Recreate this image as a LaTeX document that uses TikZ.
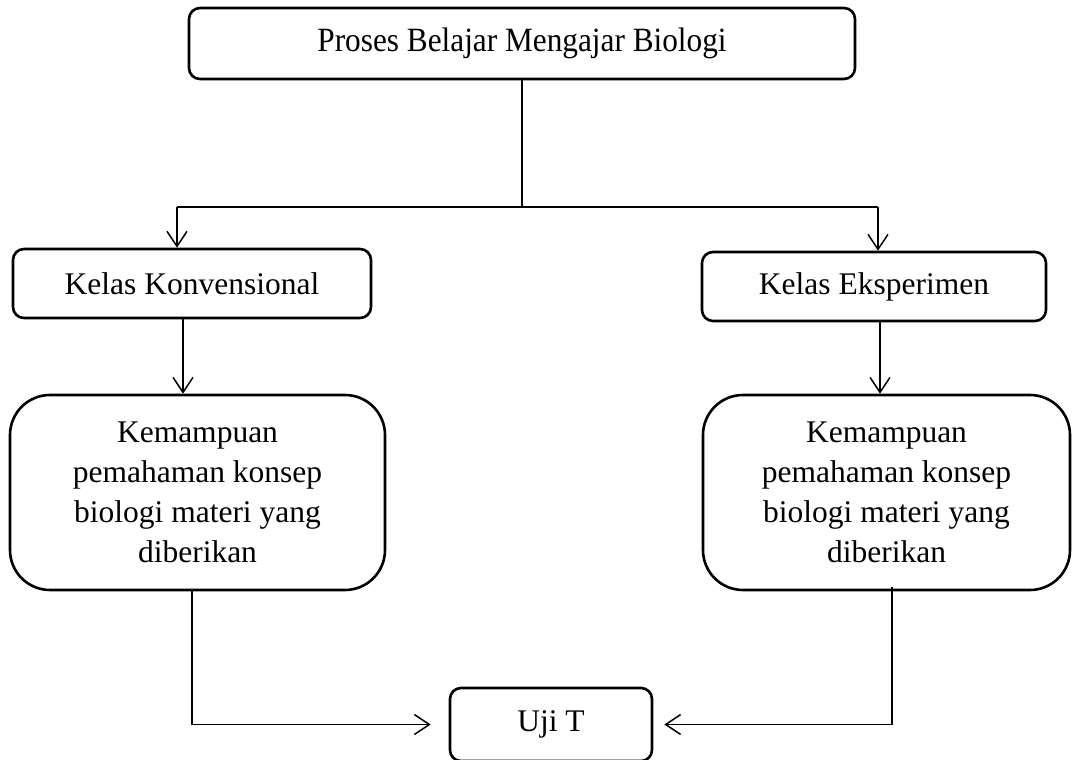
\documentclass[tikz,border=0pt]{standalone}
\usepackage{fontspec}
\setmainfont{Liberation Serif}
\usetikzlibrary{arrows.meta}
\begin{document}
\begin{tikzpicture}[x=1pt,y=-1pt,
  box/.style={draw, line width=2.6pt, rounded corners=11pt, inner sep=0pt,
    font=\fontsize{31.5}{40}\selectfont, align=center},
  bigbox/.style={box, rounded corners=40pt},
  conn/.style={line width=1.5pt},
  arr/.style={conn, -{Straight Barb[length=15pt,width=20pt,line width=1.5pt]}}]
\clip (0,0) rectangle (1072,760);
\node[box, minimum width=666pt, minimum height=71pt] (top) at (522,43.5) {\fontsize{34}{40}\selectfont\scalebox{0.92}[1]{Proses Belajar Mengajar Biologi}};
\node[box, minimum width=358pt, minimum height=69pt] (kk) at (192,283.5) {Kelas Konvensional};
\node[box, minimum width=344pt, minimum height=69pt] (ke) at (874,286.5) {Kelas Eksperimen};
\node[bigbox, minimum width=375pt, minimum height=195pt] (kl) at (197.5,492.5) {Kemampuan\\pemahaman konsep\\biologi materi yang\\diberikan};
\node[bigbox, minimum width=367pt, minimum height=195pt] (kr) at (886.5,492.5) {Kemampuan\\pemahaman konsep\\biologi materi yang\\diberikan};
\node[box, minimum width=202pt, minimum height=73pt] (uji) at (551,724.5) {Uji T};
\coordinate (bl) at (177,207);
\coordinate (bm) at (522,207);
\coordinate (brt) at (878,207);
\draw[conn] (top.south) -- (bm);
\draw[conn] (bl) -- (brt);
\draw[arr] (bl) -- (bl |- kk.north);
\draw[arr] (brt) -- (brt |- ke.north);
\draw[arr] ([xshift=-9pt]kk.south) -- ([xshift=-9pt]kk.south |- kl.north);
\draw[arr] ([xshift=6pt]ke.south) -- ([xshift=6pt]ke.south |- kr.north);
\draw[arr] ([xshift=-5.5pt]kl.south) |- ([xshift=-18pt]uji.west);
\draw[arr] ([shift={(5.5,-4)}]kr.south) |- ([xshift=11pt]uji.east);
\end{tikzpicture}
\end{document}
